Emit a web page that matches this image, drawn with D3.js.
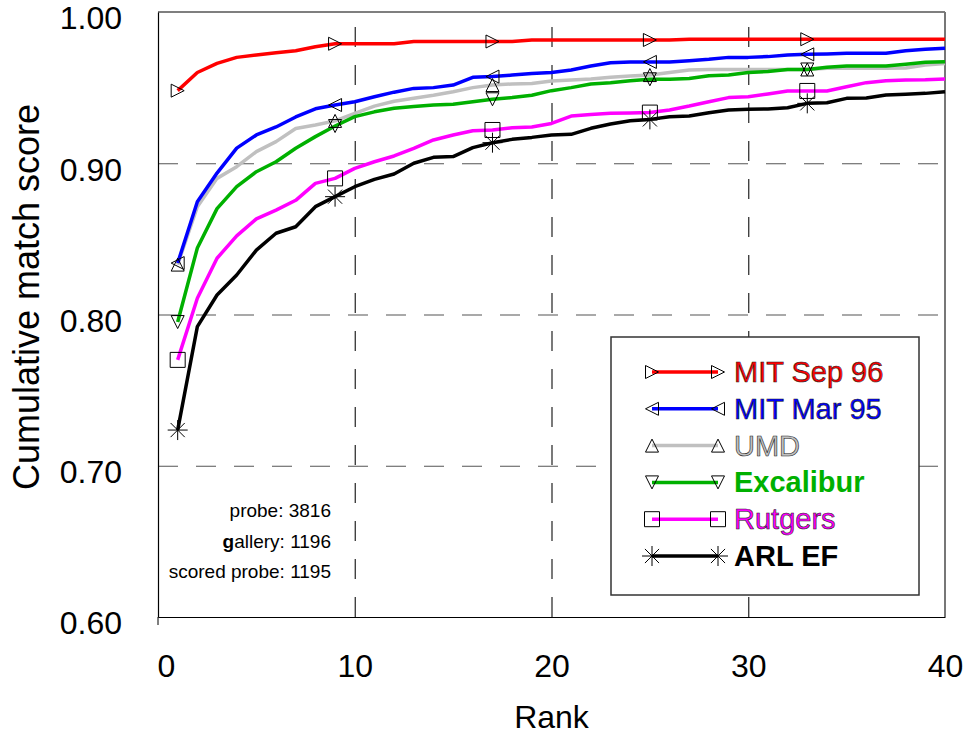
<!DOCTYPE html>
<html>
<head>
<meta charset="utf-8">
<script src="https://cdn.jsdelivr.net/npm/d3@7"></script>
<style>
  body { margin: 0; background: #fff; }
  text { font-family: "Liberation Sans", Arial, sans-serif; }
</style>
</head>
<body>
<div id="cms"></div>
<script>
// ---- DATA ----
var ranks = d3.range(1, 41),
    markerRanks = [1, 9, 17, 25, 33],
    xTicks = [0, 10, 20, 30, 40],
    yTicks = [0.6, 0.7, 0.8, 0.9, 1.0],
    xGrid = [10, 20, 30],
    yGrid = [0.7, 0.8, 0.9];

var mitSep96 = [0.948, 0.960, 0.966, 0.970, 0.9716, 0.973, 0.9744, 0.977, 0.979, 0.979,
                0.979, 0.979, 0.9805, 0.9805, 0.9805, 0.9805, 0.9805, 0.9805, 0.9815, 0.9815,
                0.9815, 0.9815, 0.9815, 0.9815, 0.9815, 0.9815, 0.982, 0.982, 0.982, 0.982,
                0.982, 0.982, 0.982, 0.982, 0.982, 0.982, 0.982, 0.982, 0.982, 0.982];

var mitMar95 = [0.834, 0.8746, 0.8935, 0.910, 0.9187, 0.924, 0.9306, 0.936, 0.9385, 0.9407,
                0.944, 0.947, 0.9495, 0.950, 0.9517, 0.9568, 0.9573, 0.9583, 0.9594, 0.960,
                0.9617, 0.9643, 0.9665, 0.967, 0.967, 0.967, 0.9678, 0.9687, 0.970, 0.970,
                0.9705, 0.9716, 0.972, 0.9723, 0.9727, 0.9727, 0.9727, 0.9744, 0.9753, 0.976];

var umd = [0.833, 0.8713, 0.890, 0.8977, 0.9077, 0.9143, 0.923, 0.9253, 0.928, 0.933,
           0.9378, 0.941, 0.943, 0.945, 0.9473, 0.950, 0.9517, 0.9524, 0.9528, 0.9544,
           0.955, 0.9557, 0.9568, 0.9577, 0.9583, 0.960, 0.9617, 0.962, 0.962, 0.962,
           0.962, 0.962, 0.962, 0.9628, 0.9628, 0.9628, 0.9628, 0.963, 0.965, 0.966];

var excalibur = [0.795, 0.844, 0.870, 0.8845, 0.8944, 0.901, 0.9099, 0.9176, 0.9246, 0.9308,
                 0.934, 0.9363, 0.9375, 0.9385, 0.939, 0.9407, 0.9423, 0.9434, 0.945, 0.948,
                 0.950, 0.9524, 0.9533, 0.9546, 0.9555, 0.9555, 0.956, 0.9579, 0.9583, 0.960,
                 0.9606, 0.962, 0.962, 0.9634, 0.9643, 0.9643, 0.9643, 0.9654, 0.9667, 0.9671];

var rutgers = [0.770, 0.8107, 0.8372, 0.852, 0.8632, 0.869, 0.8755, 0.8867, 0.890, 0.8966,
               0.901, 0.9048, 0.9099, 0.9154, 0.9187, 0.9215, 0.922, 0.9235, 0.924, 0.9263,
               0.9312, 0.9323, 0.933, 0.9333, 0.9335, 0.9352, 0.9378, 0.9407, 0.9434, 0.944,
               0.9458, 0.9478, 0.9478, 0.9478, 0.9506, 0.9533, 0.9546, 0.955, 0.9552, 0.9557];

var arlEF = [0.7236, 0.792, 0.8129, 0.8261, 0.8426, 0.8537, 0.858, 0.8713, 0.8779, 0.8845,
             0.8893, 0.8929, 0.900, 0.9039, 0.9044, 0.9103, 0.9136, 0.9158, 0.9171, 0.9187,
             0.9191, 0.9231, 0.926, 0.9281, 0.929, 0.9308, 0.9312, 0.9334, 0.9352, 0.9357,
             0.9359, 0.9367, 0.9396, 0.940, 0.9429, 0.9432, 0.9451, 0.9456, 0.9462, 0.9473];

var infoLines = ["probe: 3816", "gallery: 1196", "scored probe: 1195"];

// legend order (top to bottom)
var series = [
    {name: "MIT Sep 96", values: mitSep96, color: "#ff0000", marker: "triRight", bold: false, outline: true},
    {name: "MIT Mar 95", values: mitMar95, color: "#0000ff", marker: "triLeft", bold: false, outline: true},
    {name: "UMD", values: umd, color: "#c0c0c0", marker: "triUp", bold: false, outline: true},
    {name: "Excalibur", values: excalibur, color: "#00b000", marker: "triDown", bold: true, outline: false},
    {name: "Rutgers", values: rutgers, color: "#ff00ff", marker: "square", bold: false, outline: true},
    {name: "ARL EF", values: arlEF, color: "#000000", marker: "star", bold: true, outline: false}
];
// draw order of lines (bottom first)
var drawOrder = ["UMD", "ARL EF", "Rutgers", "Excalibur", "MIT Mar 95", "MIT Sep 96"];

// ---- SETUP ----
var width = 963,
    height = 735,
    margin = {left: 158, top: 12, right: 18, bottom: 118};

var svg = d3.select("#cms")
            .append("svg")
            .attr("width", width)
            .attr("height", height);

var xScale = d3.scaleLinear()
                .domain([0, 40])
                .range([margin.left, width - margin.right]);

var yScale = d3.scaleLinear()
                .domain([0.6, 1.0])
                .range([height - margin.bottom, margin.top]);

// marker shapes, centred on 0,0
var markerPath = function(type){
    var t = 6.5, s = 7.5, r = 10, d = r * 0.7071;
    switch (type) {
        case "triRight": return "M" + (-t) + "," + (-t) + "L" + t + ",0L" + (-t) + "," + t + "Z";
        case "triLeft":  return "M" + t + "," + (-t) + "L" + (-t) + ",0L" + t + "," + t + "Z";
        case "triUp":    return "M0," + (-t) + "L" + t + "," + t + "L" + (-t) + "," + t + "Z";
        case "triDown":  return "M0," + t + "L" + t + "," + (-t) + "L" + (-t) + "," + (-t) + "Z";
        case "square":   return "M" + (-s) + "," + (-s) + "h" + (2 * s) + "v" + (2 * s) + "h" + (-2 * s) + "Z";
        case "star":     return "M" + (-r) + ",0H" + r + "M0," + (-r) + "V" + r +
                                "M" + (-d) + "," + (-d) + "L" + d + "," + d +
                                "M" + (-d) + "," + d + "L" + d + "," + (-d);
    }
};

// ---- GRID ----
var xGridAxis = d3.axisBottom(xScale)
                    .tickValues(xGrid)
                    .tickSize(-(yScale(0.6) - yScale(1.0)))
                    .tickFormat("");

var yGridAxis = d3.axisLeft(yScale)
                    .tickValues(yGrid)
                    .tickSize(-(xScale(40) - xScale(0)))
                    .tickFormat("");

svg.append("g")
    .attr("transform", "translate(0," + yScale(0.6) + ")")
    .call(xGridAxis)
    .call(function(g){ g.select(".domain").remove(); })
    .selectAll("line")
        .attr("stroke", "#222")
        .attr("stroke-width", 1.2)
        .attr("stroke-dasharray", "20,18");

svg.append("g")
    .attr("transform", "translate(" + xScale(0) + ",0)")
    .call(yGridAxis)
    .call(function(g){ g.select(".domain").remove(); })
    .selectAll("line")
        .attr("stroke", "#555")
        .attr("stroke-width", 1.2)
        .attr("stroke-dasharray", "20,18");

// ---- FRAME / AXES ----
svg.append("line")
    .attr("x1", xScale(0)).attr("x2", xScale(40))
    .attr("y1", yScale(1.0)).attr("y2", yScale(1.0))
    .attr("stroke", "#000").attr("stroke-width", 1.2);

svg.append("line")
    .attr("x1", xScale(40)).attr("x2", xScale(40))
    .attr("y1", yScale(1.0)).attr("y2", yScale(0.6))
    .attr("stroke", "#777").attr("stroke-width", 2);

var xAxis = d3.axisBottom(xScale)
                .tickValues(xTicks)
                .tickSize(0)
                .tickPadding(37);

var yAxis = d3.axisLeft(yScale)
                .tickValues(yTicks)
                .tickSize(0)
                .tickPadding(36)
                .tickFormat(d3.format(".2f"));

var gx = svg.append("g")
    .attr("transform", "translate(0," + yScale(0.6) + ")")
    .call(xAxis);
gx.select(".domain").attr("stroke", "#000").attr("stroke-width", 1.2);
gx.selectAll("text")
    .attr("font-size", 32)
    .attr("font-family", "Liberation Sans, Arial, sans-serif")
    .attr("fill", "#000");
// first label sits a bit right of the axis
gx.selectAll("text").filter(function(d){ return d === 0; }).attr("dx", 8);

var gy = svg.append("g")
    .attr("transform", "translate(" + xScale(0) + ",0)")
    .call(yAxis);
gy.select(".domain").attr("stroke", "#000").attr("stroke-width", 1.2);
gy.selectAll("text")
    .attr("font-size", 32)
    .attr("font-family", "Liberation Sans, Arial, sans-serif")
    .attr("fill", "#000")
    .attr("dy", "0.53em");

// little corner tick
svg.append("line")
    .attr("x1", xScale(0)).attr("x2", xScale(0))
    .attr("y1", yScale(0.6)).attr("y2", yScale(0.6) + 8)
    .attr("stroke", "#000");

// axis titles
svg.append("text")
    .attr("x", (xScale(0) + xScale(40)) / 2)
    .attr("y", 728)
    .attr("text-anchor", "middle")
    .attr("font-size", 32)
    .text("Rank");

svg.append("text")
    .attr("transform", "translate(39," + 297 + ") rotate(-90)")
    .attr("text-anchor", "middle")
    .attr("font-size", 36)
    .text("Cumulative match score");

// ---- LINES ----
var line = d3.line()
                .x(function(d, i){ return xScale(ranks[i]); })
                .y(function(d){ return yScale(d); });

drawOrder.forEach(function(name){
    var s = series.filter(function(v){ return v.name == name; })[0];
    svg.append("path")
        .datum(s.values)
        .attr("fill", "none")
        .attr("stroke", s.color)
        .attr("stroke-width", 3.5)
        .attr("stroke-linejoin", "round")
        .attr("d", line);
});

// markers
series.forEach(function(s){
    svg.selectAll(null)
        .data(markerRanks)
        .enter()
        .append("path")
            .attr("transform", function(r){ return "translate(" + xScale(r) + "," + yScale(s.values[r - 1]) + ")"; })
            .attr("d", markerPath(s.marker))
            .attr("fill", "none")
            .attr("stroke", "#000")
            .attr("stroke-width", 1);
});

// ---- INFO TEXT ----
svg.selectAll(null)
    .data(infoLines)
    .enter()
    .append("text")
        .attr("x", 331)
        .attr("y", function(d, i){ return 517 + i * 30.5; })
        .attr("text-anchor", "end")
        .attr("font-size", 19)
        .each(function(d){
            var t = d3.select(this);
            if (d.charAt(0) == "g") {
                t.append("tspan").attr("font-weight", "bold").text("g");
                t.append("tspan").text(d.slice(1));
            } else {
                t.text(d);
            }
        });

// ---- LEGEND ----
var legend = svg.append("g");

legend.append("rect")
    .attr("x", 611).attr("y", 337)
    .attr("width", 308).attr("height", 258)
    .attr("fill", "#fff")
    .attr("stroke", "#333")
    .attr("stroke-width", 1.5);

var rowY = d3.scaleLinear().domain([0, 5]).range([372, 556]);

series.forEach(function(s, i){
    var yy = rowY(i);
    legend.append("line")
        .attr("x1", 652).attr("x2", 718)
        .attr("y1", yy).attr("y2", yy)
        .attr("stroke", s.color)
        .attr("stroke-width", 3.5);
    [652, 718].forEach(function(mx){
        legend.append("path")
            .attr("transform", "translate(" + mx + "," + yy + ")")
            .attr("d", markerPath(s.marker))
            .attr("fill", "none")
            .attr("stroke", "#000")
            .attr("stroke-width", 1);
    });
    legend.append("text")
        .attr("x", 734)
        .attr("y", yy + 10)
        .attr("font-size", 29)
        .attr("font-weight", s.bold ? "bold" : "normal")
        .attr("fill", s.color)
        .attr("stroke", s.outline ? "#222" : "none")
        .attr("stroke-width", 0.6)
        .text(s.name);
});
</script>
</body>
</html>
